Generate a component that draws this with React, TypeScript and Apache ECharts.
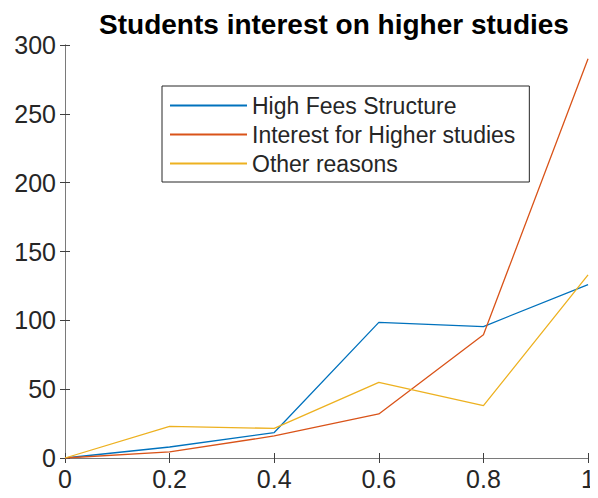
import React, { useEffect, useRef } from "react";
import * as echarts from "echarts";

const xValues = [0, 0.2, 0.4, 0.6, 0.8, 1];
const highFees = [0, 8, 18.5, 98.5, 95.5, 126];
const interestHigher = [0, 4.5, 16, 32, 89.5, 290];
const otherReasons = [0, 23, 21.5, 55, 38, 133];
const seriesNames = ["High Fees Structure", "Interest for Higher studies", "Other reasons"];
const seriesColors = ["#0072BD", "#D95319", "#EDB120"];

export default function App() {
  const ref = useRef<HTMLDivElement>(null);
  useEffect(() => {
    if (!ref.current) return;
    const chart = echarts.init(ref.current, undefined, { renderer: "svg" });
    const axisColor = "#262626";
    const font = "'Liberation Sans', Arial, sans-serif";
    const dataSets = [highFees, interestHigher, otherReasons];
    const common = {
      axisLine: { show: true, lineStyle: { color: "#7a7a7a", width: 1 } },
      axisTick: { show: true, inside: true, length: 5, lineStyle: { color: "#404040" } },
      splitLine: { show: false },
    };
    chart.setOption({
      animation: false,
      backgroundColor: "#ffffff",
      title: {
        text: "Students interest on higher studies",
        left: 329,
        textAlign: "center",
        top: 5,
        textStyle: { fontFamily: font, fontSize: 28, fontWeight: "bold", color: "#000" },
      },
      grid: { left: 65, right: 8, top: 45, bottom: 40, containLabel: false },
      legend: {
        orient: "vertical",
        left: 162,
        top: 86,
        padding: [8, 14, 7, 8],
        itemGap: 6,
        itemWidth: 77,
        itemHeight: 2,
        icon: "rect",
        borderColor: "#262626",
        borderWidth: 1,
        backgroundColor: "#fff",
        data: seriesNames,
        textStyle: { fontFamily: font, fontSize: 23, color: axisColor },
      },
      xAxis: [
        {
          type: "value",
          min: 0,
          max: 1,
          interval: 0.2,
          position: "bottom",
          ...common,
          axisLabel: {
            fontFamily: font,
            fontSize: 25,
            color: axisColor,
            margin: 8,
            formatter: (v: number) => String(Math.round(v * 10) / 10),
          },
        },
        {
          type: "value",
          min: 0,
          max: 1,
          interval: 0.2,
          position: "top",
          ...common,
          axisLabel: { show: false },
        },
      ],
      yAxis: [
        {
          type: "value",
          min: 0,
          max: 300,
          interval: 50,
          position: "left",
          ...common,
          axisLabel: { fontFamily: font, fontSize: 25, color: axisColor, margin: 9 },
        },
        {
          type: "value",
          min: 0,
          max: 300,
          interval: 50,
          position: "right",
          ...common,
          axisLabel: { show: false },
        },
      ],
      series: seriesNames.map((name, i) => ({
        name,
        type: "line",
        xAxisIndex: 0,
        yAxisIndex: 0,
        showSymbol: false,
        symbol: "none",
        color: seriesColors[i],
        lineStyle: { width: 1.3, color: seriesColors[i] },
        data: xValues.map((x, j) => [x, dataSets[i][j]]),
      })),
    });
    return () => chart.dispose();
  }, []);
  return <div ref={ref} style={{ width: 598, height: 498, margin: -8 }} />;
}
